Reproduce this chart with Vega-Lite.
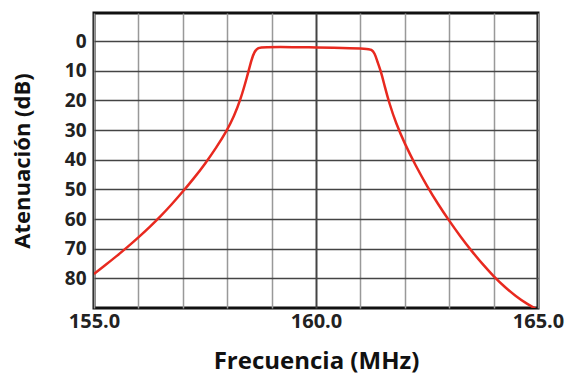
{
  "$schema": "https://vega.github.io/schema/vega-lite/v6.json",
  "autosize": "none",
  "width": 444,
  "height": 295,
  "padding": {"left": 94, "top": 13, "right": 44, "bottom": 75},
  "background": "white",
  "config": {
    "view": {"stroke": "#111", "strokeWidth": 3},
    "font": "Open Sans"
  },
  "data": {
    "values": [
      {"f": 155.0, "db": 78.5},
      {"f": 155.25, "db": 75.6},
      {"f": 155.5, "db": 72.6},
      {"f": 155.75, "db": 69.5},
      {"f": 156.0, "db": 66.2},
      {"f": 156.25, "db": 62.75},
      {"f": 156.5, "db": 59.05},
      {"f": 156.75, "db": 55.05},
      {"f": 157.0, "db": 50.75},
      {"f": 157.25, "db": 46.25},
      {"f": 157.5, "db": 41.4},
      {"f": 157.75, "db": 36.0},
      {"f": 158.0, "db": 30.0},
      {"f": 158.15, "db": 25.45},
      {"f": 158.3, "db": 19.75},
      {"f": 158.45, "db": 11.95},
      {"f": 158.55, "db": 6.0},
      {"f": 158.62, "db": 3.3},
      {"f": 158.7, "db": 2.2},
      {"f": 158.8, "db": 2.0},
      {"f": 159.5, "db": 2.0},
      {"f": 160.0, "db": 2.1},
      {"f": 160.6, "db": 2.3},
      {"f": 161.15, "db": 2.5},
      {"f": 161.25, "db": 2.8},
      {"f": 161.32, "db": 4.0},
      {"f": 161.38, "db": 6.8},
      {"f": 161.46, "db": 10.0},
      {"f": 161.55, "db": 15.4},
      {"f": 161.65, "db": 20.9},
      {"f": 161.8, "db": 27.65},
      {"f": 162.0, "db": 34.65},
      {"f": 162.25, "db": 42.15},
      {"f": 162.5, "db": 48.9},
      {"f": 162.75, "db": 55.0},
      {"f": 163.0, "db": 60.6},
      {"f": 163.25, "db": 65.85},
      {"f": 163.5, "db": 70.7},
      {"f": 163.75, "db": 75.2},
      {"f": 164.0, "db": 79.3},
      {"f": 164.25, "db": 82.9},
      {"f": 164.5, "db": 86.0},
      {"f": 164.75, "db": 88.6},
      {"f": 165.0, "db": 90.7}
    ]
  },
  "mark": {"type": "line", "color": "#e8291f", "strokeWidth": 2.5, "interpolate": "basis", "clip": true},
  "encoding": {
    "x": {
      "field": "f",
      "type": "quantitative",
      "scale": {"domain": [155, 165], "nice": false, "zero": false},
      "axis": {
        "title": "Frecuencia (MHz)",
        "values": [155, 156, 157, 158, 159, 160, 161, 162, 163, 164, 165],
        "labelExpr": "datum.value % 5 == 0 ? format(datum.value, '.1f') : ''",
        "labelFontSize": 20,
        "labelFontWeight": "bold",
        "labelColor": "#222",
        "labelPadding": 3,
        "labelFlush": false,
        "ticks": false,
        "domain": false,
        "gridColor": {"condition": {"test": "datum.value == 160", "value": "#444"}, "value": "#999"},
        "gridWidth": {"condition": {"test": "datum.value == 160", "value": 2}, "value": 1.5},
        "grid": true,
        "titleFontSize": 24,
        "titleFontWeight": "bold",
        "titleColor": "#111",
        "titlePadding": 18
      }
    },
    "y": {
      "field": "db",
      "type": "quantitative",
      "scale": {"domain": [-9.5, 90], "nice": false, "zero": false, "reverse": true},
      "axis": {
        "title": "Atenuación (dB)",
        "values": [0, 10, 20, 30, 40, 50, 60, 70, 80],
        "labelFontSize": 19,
        "labelFontWeight": "bold",
        "labelColor": "#222",
        "labelPadding": 8,
        "ticks": false,
        "domain": false,
        "grid": true,
        "gridColor": "#444",
        "gridWidth": 1.5,
        "titleFontSize": 22,
        "titleFontWeight": "bold",
        "titleColor": "#111",
        "titlePadding": 30
      }
    }
  }
}
